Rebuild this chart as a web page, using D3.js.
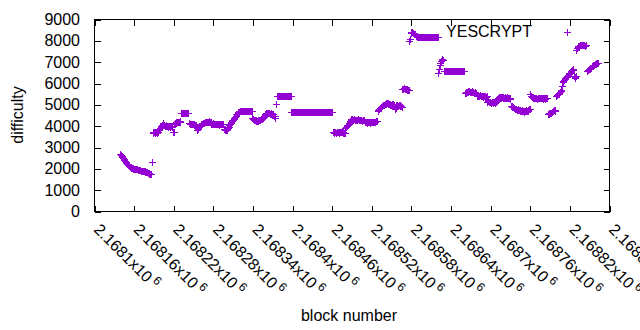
<!DOCTYPE html>
<html>
<head>
<meta charset="utf-8">
<script src="https://cdn.jsdelivr.net/npm/d3@7.9.0/dist/d3.min.js"></script>
<style>
  body { margin: 0; background: #fff; }
  svg { display: block; font-family: "Liberation Sans", Arial, sans-serif; }
</style>
</head>
<body>
<svg id="chart" width="640" height="330"></svg>
<script>
// Difficulty per block, stored as runs of consecutive blocks (first block of each run + its values)
const runStarts = [
  2168139, 2168188, 2168231, 2168243, 2168257, 2168277, 2168296, 2168304, 2168321, 2168339,
  2168356, 2168376, 2168398, 2168461, 2168480, 2168487, 2168509, 2168529, 2168566, 2168577,
  2168589, 2168621, 2168629, 2168661, 2168679, 2168695, 2168711, 2168731, 2168760, 2168787,
  2168799, 2168808, 2168826, 2168830, 2168846
];

const runValues = [
  [2700,2650,2620,2550,2500,2480,2400,2360,2330,2270,2250,2220,2170,2150,2130,2100,2080,2060,2050,2030,
   2010,2000,1990,1990,1980,1980,1970,1960,1950,1940,1930,1920,1910,1900,1900,1890,1890,1880,1870,1870,
   1860,1840,1820,1800,1760,1750,1760,1770,2300],
  [3750,3700,3750,3700,3750,3750,3700,3750,3750,3800,3850,3900,3950,4000,4050,4100,4150,4050,4050,4000,
   4050,4000,4000,4000,3950,4000,4000,3950,4000,3950,3950,3750,3750,4100,4150,4150,4200,4200,4200,4200,
   4200,4250,4200],
  [4600,4600,4600,4600,4600,4600,4600,4600,4600,4600,4600,4600],
  [4150,4100,4100,4100,4100,4100,4100,4050,4100,4050,4050,4000,3800,3850],
  [3900,3950,4000,4000,4050,4100,4100,4150,4150,4150,4200,4200,4200,4200,4200,4200,4200,4250,4200,4200],
  [4100,4100,4100,4150,4100,4100,4100,4100,4100,4100,4100,4050,4100,4100,4100,4100,4100,4100,4100],
  [3850,3850,3800,3800,3800,3850,3900,3950],
  [4050,4100,4150,4200,4250,4300,4300,4350,4400,4450,4500,4550,4550,4600,4650,4650,4700],
  [4700,4700,4700,4700,4700,4700,4700,4700,4700,4700,4700,4700,4700,4700,4700,4700,4700,4700],
  [4400,4350,4300,4300,4300,4250,4300,4250,4250,4300,4300,4300,4300,4350,4350,4400,4400],
  [4450,4500,4550,4550,4600,4600,4600,4600,4600,4600,4550,4600,4550,4550,4550,4550,4500,4500,4400,5050],
  [5400,5400,5400,5400,5400,5400,5400,5400,5400,5400,5400,5400,5400,5400,5400,5400,5400,5400,5400,5400,
   5400,5400],
  [4650,4650,4650,4650,4650,4650,4650,4650,4650,4650,4650,4650,4650,4650,4650,4650,4650,4650,4650,4650,
   4650,4650,4650,4650,4650,4650,4650,4650,4650,4650,4650,4650,4650,4650,4650,4650,4650,4650,4650,4650,
   4650,4650,4650,4650,4650,4650,4650,4650,4650,4650,4650,4650,4650,4650,4650,4650,4650,4650,4650,4650,
   4650,4650,4650],
  [3750,3700,3750,3750,3750,3700,3750,3750,3750,3750,3700,3750,3750,3750,3750,3700,3750,3700,3700],
  [3900,3950,4000,4050,4050,4100,4150],
  [4250,4300,4350,4350,4300,4300,4350,4300,4300,4300,4300,4300,4350,4300,4300,4300,4300,4300,4250,4300,
   4300,4300],
  [4200,4200,4200,4150,4200,4200,4200,4200,4200,4150,4200,4200,4200,4200,4200,4200,4200,4250,4250,4250],
  [4700,4750,4800,4850,4850,4900,4950,4950,5000,5000,5000,5050,5050,5100,5100,5100,5050,5050,5050,5000,
   5000,5000,5050,5050,5000,5000,4800,4850,5000,5000,4950,4950,5000,5000,4950,4950,4900],
  [5750,5750,5800,5800,5750,5750,5750,5700,5750,5700,5700],
  [7980,8100,8350,8400,8400,8350,8350,8300,8300,8300,8250,8250],
  [8200,8200,8200,8200,8200,8200,8200,8200,8200,8200,8200,8200,8200,8200,8200,8200,8200,8200,8200,8200,
   8200,8200,8200,8200,8200,8200,8200,8200,8200,8200,8200,8200],
  [6500,6700,6850,6950,7050,7100,7150,7100],
  [6600,6600,6600,6600,6600,6600,6600,6600,6600,6600,6600,6600,6600,6600,6600,6600,6600,6600,6600,6600,
   6600,6600,6600,6600,6600,6600,6600,6600,6600,6600,6600,6600],
  [5550,5550,5600,5600,5600,5650,5650,5600,5600,5600,5600,5650,5600,5600,5550,5600,5550,5550],
  [5450,5400,5400,5400,5400,5450,5400,5400,5400,5350,5400,5400,5400,5350,5350,5400],
  [5120,5200,5150,5150,5150,5100,5100,5150,5150,5100,5150,5100,5150,5150,5200,5250],
  [5300,5350,5350,5350,5350,5300,5350,5350,5300,5300,5300,5350,5300,5300,5350,5300,5300,5300,5300,5250],
  [4950,4950,4900,4900,4850,4850,4800,4800,4800,4750,4750,4800,4750,4750,4700,4700,4750,4700,4700,4650,
   4700,4700,4700,4750,4700,4700,4750,4800,4800],
  [5500,5400,5350,5350,5300,5300,5300,5300,5300,5300,5250,5300,5300,5300,5300,5300,5300,5300,5300,5300,
   5250,5300,5300,5250,5300,5300,5300],
  [4550,4550,4600,4600,4600,4600,4650,4700,4700,4750,4750,4700],
  [5400,5450,5450,5500,5500,5550,5600,5650,5700],
  [5900,6050,6100,6150,6200,6250,6300,6300,6350,6400,6450,6500,6500,6550,6600,6650,6650,6700],
  [6350,6250,6300,6350],
  [7550,7650,7700,7750,7750,7800,7800,7800,7800,7800,7800,7800,7800,7750,7800,7800],
  [6600,6650,6650,6700,6700,6750,6750,6800,6800,6850,6850,6850,6900,6900,6950,6950,6950]
];

const xTicks = [2168100, 2168160, 2168220, 2168280, 2168340, 2168400, 2168460,
  2168520, 2168580, 2168640, 2168700, 2168760, 2168820, 2168880];
const yTicks = [0, 1000, 2000, 3000, 4000, 5000, 6000, 7000, 8000, 9000];
const seriesName = 'YESCRYPT';
const color = '#9400d3';

const points = runValues.flatMap((vals, r) =>
  vals.map((d, i) => ({ block: runStarts[r] + i, difficulty: d })));

const svg = d3.select('#chart');
const plotLeft = 94.5, plotRight = 609.5, plotTop = 19.5, plotBottom = 211.5;

const x = d3.scaleLinear().domain([2168100, 2168880]).range([plotLeft, plotRight]);
const y = d3.scaleLinear().domain([0, 9000]).range([plotBottom, plotTop]);

// axes, ticks pointing inwards and mirrored
const gx = svg.append('g').attr('transform', `translate(0,${plotBottom})`)
  .call(d3.axisBottom(x).tickValues(xTicks).tickSize(-6).tickSizeOuter(0).tickFormat(''));
svg.append('g').attr('transform', `translate(0,${plotTop})`)
  .call(d3.axisTop(x).tickValues(xTicks).tickSize(-6).tickSizeOuter(0).tickFormat(''));
const gy = svg.append('g').attr('transform', `translate(${plotLeft},0)`)
  .call(d3.axisLeft(y).tickValues(yTicks).tickSize(-6).tickSizeOuter(0)
    .tickPadding(14.5).tickFormat(d3.format('d')));
svg.append('g').attr('transform', `translate(${plotRight},0)`)
  .call(d3.axisRight(y).tickValues(yTicks).tickSize(-6).tickSizeOuter(0).tickFormat(''));

svg.selectAll('.domain').remove();
svg.selectAll('.tick line').attr('stroke', '#000').attr('shape-rendering', 'crispEdges');

gy.selectAll('.tick text')
  .attr('font-size', 16)
  .attr('fill', '#000')
  .attr('font-family', '"Liberation Sans", Arial, sans-serif');

// rotated x labels like 2.1681x10^6
gx.selectAll('.tick text').remove();
gx.selectAll('.tick').each(function (v) {
  const mant = (v / 1e6).toFixed(5).replace(/0+$/, '');
  const t = d3.select(this).append('text')
    .attr('transform', 'translate(2,15) rotate(45)')
    .attr('text-anchor', 'start')
    .attr('font-size', 16)
    .attr('font-family', '"Liberation Sans", Arial, sans-serif')
    .attr('fill', '#000')
    .attr('dy', '0.35em');
  t.append('tspan').text(mant + 'x10');
  t.append('tspan').attr('font-size', 12).attr('dx', 3).attr('dy', -6).text('6');
});

svg.append('rect')
  .attr('x', plotLeft).attr('y', plotTop)
  .attr('width', plotRight - plotLeft).attr('height', plotBottom - plotTop)
  .attr('fill', 'none').attr('stroke', '#000').attr('shape-rendering', 'crispEdges');

// plus markers
function plus(px, py) {
  const cx = Math.round(px) + 0.5, cy = Math.round(py) + 0.5;
  return `M${cx - 3.5},${cy}H${cx + 3.5}M${cx},${cy - 3.5}V${cy + 3.5}`;
}

svg.append('path')
  .attr('d', points.map(p => plus(x(p.block), y(p.difficulty))).join(''))
  .attr('fill', 'none')
  .attr('stroke', color)
  .attr('stroke-width', 1)
  .attr('shape-rendering', 'crispEdges');

// key
svg.append('text')
  .attr('x', 532).attr('y', 37)
  .attr('text-anchor', 'end')
  .attr('font-size', 16)
  .text(seriesName);
svg.append('path')
  .attr('d', plus(567, 32))
  .attr('fill', 'none').attr('stroke', color).attr('shape-rendering', 'crispEdges');

// axis titles
svg.append('text')
  .attr('transform', 'translate(17,115) rotate(-90)')
  .attr('text-anchor', 'middle')
  .attr('dy', '0.35em')
  .attr('font-size', 16)
  .text('difficulty');
svg.append('text')
  .attr('x', 349).attr('y', 321)
  .attr('text-anchor', 'middle')
  .attr('font-size', 16)
  .text('block number');
</script>
</body>
</html>
